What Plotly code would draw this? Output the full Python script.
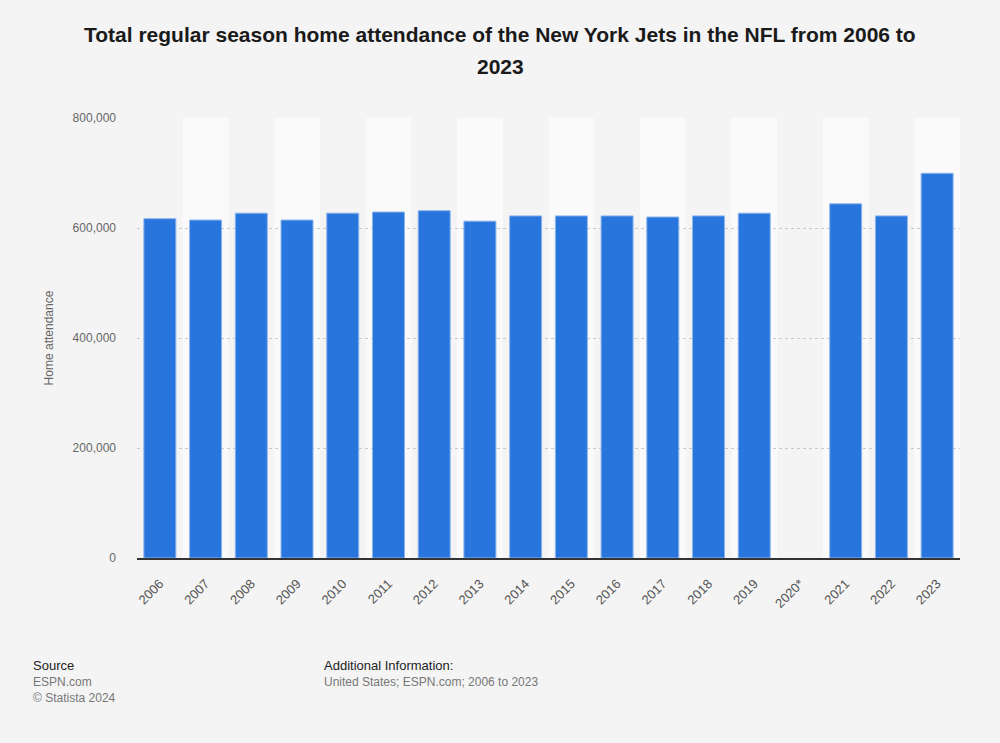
import plotly.graph_objects as go

years = ["2006", "2007", "2008", "2009", "2010", "2011", "2012", "2013", "2014",
         "2015", "2016", "2017", "2018", "2019", "2020*", "2021", "2022", "2023"]
attendance = [617000, 614500, 627000, 614500, 627000, 629000, 631500, 612500, 622000,
              622000, 622000, 620000, 622000, 627000, None, 644000, 622000, 699500]
y_ticks = [0, 200000, 400000, 600000, 800000]
y_tick_labels = ["0", "200,000", "400,000", "600,000", "800,000"]

title_lines = ["Total regular season home attendance of the New York Jets in the NFL from 2006 to",
               "2023"]
y_title = "Home attendance"

W, H = 1000, 743
L, R, T, B = 137, 40, 118, 185
PW, PH = W - L - R, H - T - B


def px_x(x):
    return (x - L) / PW


def px_y(y):
    return 1 - (y - T) / PH


fig = go.Figure()
fig.add_trace(go.Bar(
    x=years, y=attendance,
    marker=dict(color="#2876dd", line=dict(color="#8db5ec", width=1)),
    width=0.7,
))

# alternating column bands
shapes = []
for i in range(len(years)):
    if i % 2 == 1:
        shapes.append(dict(type="rect", xref="x", yref="y", layer="below",
                           x0=i - 0.5, x1=i + 0.5, y0=0, y1=y_ticks[-1],
                           fillcolor="#fafafa", line=dict(width=0)))

fig.update_layout(
    width=W, height=H,
    paper_bgcolor="#f4f4f4", plot_bgcolor="#f4f4f4",
    margin=dict(l=L, r=R, t=T, b=B),
    showlegend=False,
    shapes=shapes,
    font=dict(family="Liberation Sans, Arial, sans-serif", color="#666666"),
    xaxis=dict(type="category", tickangle=-45, tickfont=dict(size=13, color="#555555"),
               showgrid=False, showline=True, linecolor="#333333", linewidth=2,
               ticks="", ticklabelstandoff=11, range=[-0.5, len(years) - 0.5]),
    yaxis=dict(range=[0, y_ticks[-1]], tickvals=y_ticks, ticktext=y_tick_labels,
               tickfont=dict(size=12, color="#666666"),
               showgrid=True, gridcolor="#c8c8c8", griddash="dot", gridwidth=1,
               zeroline=False, ticks="", ticklabelstandoff=20,
               title=dict(text=y_title, font=dict(size=12, color="#666666"), standoff=16)),
    bargap=0.3,
)

for i, line in enumerate(title_lines):
    fig.add_annotation(text="<b>" + line + "</b>", xref="paper", yref="paper",
                       x=px_x(500), y=px_y(35 + 32 * i), xanchor="center", yanchor="middle",
                       showarrow=False, font=dict(size=21, color="#1a1a1a"))

annotations = [
    dict(text="Source", x=31, y=665, font=dict(size=13, color="#222222")),
    dict(text="ESPN.com", x=31, y=682, font=dict(size=12, color="#777777")),
    dict(text="© Statista 2024", x=31, y=698, font=dict(size=12, color="#777777")),
    dict(text="Additional Information:", x=322, y=665, font=dict(size=13, color="#222222")),
    dict(text="United States; ESPN.com; 2006 to 2023", x=322, y=682, font=dict(size=12, color="#777777")),
]
for a in annotations:
    fig.add_annotation(text=a["text"], xref="paper", yref="paper",
                       x=px_x(a["x"]), y=px_y(a["y"]),
                       xanchor="left", yanchor="middle", showarrow=False, font=a["font"])

fig.write_html("out.html", config={"displayModeBar": False},
               post_script="document.body.style.margin='0';")
